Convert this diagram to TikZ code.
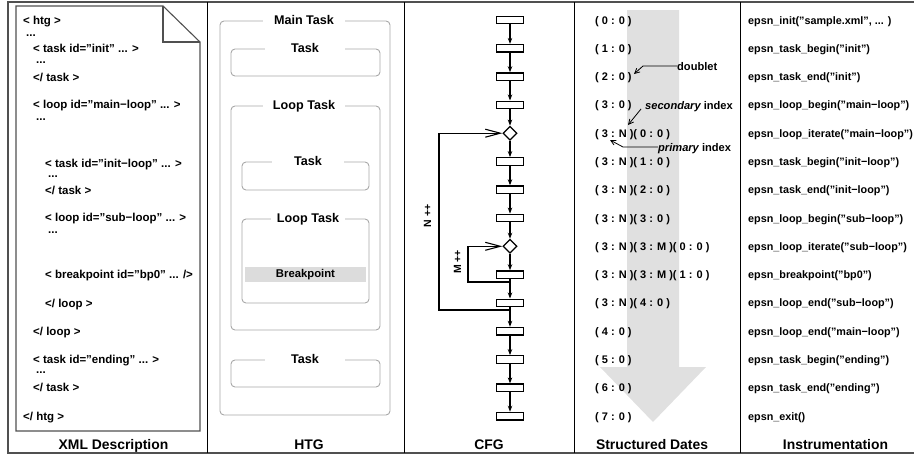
\documentclass[tikz,border=0pt]{standalone}
\usepackage{fontspec}
\setmainfont{Liberation Sans}
\usetikzlibrary{arrows.meta,shapes.geometric}
\definecolor{htggray}{HTML}{A8A8A8}
\definecolor{bpgray}{HTML}{DCDCDC}
\definecolor{arrgray}{HTML}{E0E0E0}
\definecolor{framegray}{HTML}{505050}
\begin{document}
\begin{tikzpicture}[x=1pt,y=-1pt,
  base/.style={inner sep=0pt, text height=8pt, text depth=0pt},
  xmltxt/.style={base, anchor=west, font=\fontsize{11.5}{12}\selectfont\bfseries},
  dotstxt/.style={xmltxt, text height=1.5pt},
  datetxt/.style={base, anchor=west, font=\fontsize{11}{12}\selectfont\bfseries},
  insttxt/.style={base, anchor=west, font=\fontsize{10.8}{12}\selectfont\bfseries},
  anntxt/.style={base, anchor=west, font=\fontsize{11.1}{12}\selectfont\bfseries},
  coltxt/.style={base, font=\fontsize{13.9}{15}\selectfont\bfseries},
  htgbox/.style={draw=htggray, line width=0.9pt, rounded corners=4pt, inner sep=0pt},
  htgtitle/.style={base, fill=white, minimum height=6pt, font=\fontsize{12.6}{13}\selectfont\bfseries},
  bpbox/.style={fill=bpgray, inner sep=0pt, font=\fontsize{11.3}{12}\selectfont\bfseries},
  cfgbox/.style={draw, line width=1.3pt, rectangle, minimum width=27pt, minimum height=7.5pt, inner sep=0pt},
  cfgdia/.style={draw, line width=1.2pt, diamond, minimum width=14pt, minimum height=14pt, inner sep=0pt},
  cfgar/.style={line width=1.1pt, -{Stealth[length=6pt,width=4.5pt]}},
  loopar/.style={line width=1.1pt, -{Straight Barb[length=15pt,width=8pt]}},
  annar/.style={line width=0.8pt, -{Straight Barb[length=5pt,width=5pt]}},
  looplab/.style={base, rotate=90, font=\fontsize{10.5}{11}\selectfont\bfseries}
]
\useasboundingbox (0,0) rectangle (914,455);
\clip (0,0) rectangle (914,455);

% frame and columns
\draw[framegray, line width=1.2pt] (914,2) -- (8,2) -- (8,453) -- (914,453);
\foreach \xx in {207,404,574,740} \draw[line width=1pt] (\xx,2) -- (\xx,453);

% ---------- XML description ----------
\draw[framegray, line width=1.1pt] (16,6) -- (163,6) -- (200,42) -- (200,431) -- (16,431) -- cycle;
\draw[framegray, line width=1.1pt] (163,6) -- (163,42) -- (200,42);
\node[xmltxt] (x1) at (23,20) {< htg >};
\node[dotstxt] (x2) at (26,36) {...};
\node[xmltxt] (x3) at (33,48) {< task id="init" ... >};
\node[dotstxt] (x4) at (36,62.5) {...};
\node[xmltxt] (x5) at (33,77) {</ task >};
\node[xmltxt] (x6) at (33,104) {< loop id="main−loop" ... >};
\node[dotstxt] (x7) at (36,119.5) {...};
\node[xmltxt] (x8) at (45,163) {< task id="init−loop" ... >};
\node[dotstxt] (x9) at (48,176.5) {...};
\node[xmltxt] (x10) at (45,190) {</ task >};
\node[xmltxt] (x11) at (45,217) {< loop id="sub−loop" ... >};
\node[dotstxt] (x12) at (48,233) {...};
\node[xmltxt] (x13) at (45,274) {< breakpoint id="bp0" ... />};
\node[xmltxt] (x14) at (45,303) {</ loop >};
\node[xmltxt] (x15) at (33,331) {</ loop >};
\node[xmltxt] (x16) at (33,359) {< task id="ending" ... >};
\node[dotstxt] (x17) at (36,372.5) {...};
\node[xmltxt] (x18) at (33,387) {</ task >};
\node[xmltxt] (x19) at (23,416) {</ htg >};

% ---------- HTG ----------
\node[htgbox, minimum width=170pt, minimum height=394pt] (hmain) at (305,218) {};
\node[htgbox, minimum width=149pt, minimum height=27pt] (htask1) at (305.5,62.5) {};
\node[htgbox, minimum width=149pt, minimum height=224pt] (hloop) at (305.5,218) {};
\node[htgbox, minimum width=127pt, minimum height=28pt] (hitask) at (305.5,176) {};
\node[htgbox, minimum width=127pt, minimum height=84pt] (hiloop) at (305.5,261) {};
\node[bpbox, minimum width=121pt, minimum height=15pt] (hbp) at (305.5,274.5) {Breakpoint};
\node[htgbox, minimum width=149pt, minimum height=27pt] (htask2) at (305.5,373.5) {};
\node[htgtitle, minimum width=82pt] (tmain) at (304,20.5) {Main Task};
\node[htgtitle, minimum width=80pt] (ttask1) at (305,48.5) {Task};
\node[htgtitle, minimum width=82pt] (tloop) at (304,105) {Loop Task};
\node[htgtitle, minimum width=72pt] (titask) at (308,161) {Task};
\node[htgtitle, minimum width=74pt] (tiloop) at (308,218) {Loop Task};
\node[htgtitle, minimum width=80pt] (ttask2) at (305,359.5) {Task};

% ---------- CFG ----------
\node[cfgbox] (c1) at (510,20.0) {};
\node[cfgbox] (c2) at (510,48.3) {};
\node[cfgbox] (c3) at (510,76.6) {};
\node[cfgbox] (c4) at (510,104.9) {};
\node[cfgdia] (c5) at (510,133.2) {};
\node[cfgbox] (c6) at (510,161.5) {};
\node[cfgbox] (c7) at (510,189.7) {};
\node[cfgbox] (c8) at (510,218.0) {};
\node[cfgdia] (c9) at (510,246.3) {};
\node[cfgbox] (c10) at (510,274.6) {};
\node[cfgbox] (c11) at (510,302.9) {};
\node[cfgbox] (c12) at (510,331.2) {};
\node[cfgbox] (c13) at (510,359.5) {};
\node[cfgbox] (c14) at (510,387.8) {};
\node[cfgbox] (c15) at (510,416.1) {};
\foreach \a/\b in {c1/c2,c2/c3,c3/c4,c4/c5,c5/c6,c6/c7,c7/c8,c8/c9,c9/c10,c10/c11,c11/c12,c12/c13,c13/c14,c14/c15}
  \draw[cfgar] (\a) -- (\b);
\coordinate (nb) at (510,310);
\coordinate (nbl) at (439,310);
\coordinate (ntl) at (439,133.2);
\draw[loopar] (nb) -- (nbl) -- (ntl) -- (c5.west);
\coordinate (mb) at (510,282);
\coordinate (mbl) at (468,282);
\coordinate (mtl) at (468,246.3);
\draw[loopar] (mb) -- (mbl) -- (mtl) -- (c9.west);
\node[looplab] (nlab) at (427,216) {N ++};
\node[looplab] (mlab) at (457,262) {M ++};

% ---------- Structured dates ----------
\fill[arrgray] (627,10) -- (679,10) -- (679,367) -- (706,367) -- (653,422) -- (600,367) -- (627,367) -- cycle;
\node[datetxt] (d1) at (595,20.0) {( 0 : 0 )};
\node[datetxt] (d2) at (595,48.3) {( 1 : 0 )};
\node[datetxt] (d3) at (595,76.6) {( 2 : 0 )};
\node[datetxt] (d4) at (595,104.9) {( 3 : 0 )};
\node[datetxt] (d5) at (595,133.2) {( 3 : N )( 0 : 0 )};
\node[datetxt] (d6) at (595,161.5) {( 3 : N )( 1 : 0 )};
\node[datetxt] (d7) at (595,189.7) {( 3 : N )( 2 : 0 )};
\node[datetxt] (d8) at (595,218.0) {( 3 : N )( 3 : 0 )};
\node[datetxt] (d9) at (595,246.3) {( 3 : N )( 3 : M )( 0 : 0 )};
\node[datetxt] (d10) at (595,274.6) {( 3 : N )( 3 : M )( 1 : 0 )};
\node[datetxt] (d11) at (595,302.9) {( 3 : N )( 4 : 0 )};
\node[datetxt] (d12) at (595,331.2) {( 4 : 0 )};
\node[datetxt] (d13) at (595,359.5) {( 5 : 0 )};
\node[datetxt] (d14) at (595,387.8) {( 6 : 0 )};
\node[datetxt] (d15) at (595,416.1) {( 7 : 0 )};
\node[anntxt] (dbl) at (677,66) {doublet};
\node[anntxt] (sec) at (645,105) {\itshape secondary\upshape\ index};
\node[anntxt] (pri) at (658,147) {\itshape primary\upshape\ index};
\coordinate (dblk) at (643,66);
\coordinate (dblt) at (634,74);
\draw[annar] (dbl.west) -- (dblk) -- (dblt);
\coordinate (secs) at (641,109);
\coordinate (sect) at (628,125);
\draw[annar] (secs) -- (sect);
\coordinate (prik) at (623,147);
\coordinate (prit) at (610,140);
\draw[annar] (pri.west) -- (prik) -- (prit);

% ---------- Instrumentation ----------
\node[insttxt] (i1) at (748,20.0) {epsn\_init("sample.xml", ... )};
\node[insttxt] (i2) at (748,48.3) {epsn\_task\_begin("init")};
\node[insttxt] (i3) at (748,76.6) {epsn\_task\_end("init")};
\node[insttxt] (i4) at (748,104.9) {epsn\_loop\_begin("main−loop")};
\node[insttxt] (i5) at (748,133.2) {epsn\_loop\_iterate("main−loop")};
\node[insttxt] (i6) at (748,161.5) {epsn\_task\_begin("init−loop")};
\node[insttxt] (i7) at (748,189.7) {epsn\_task\_end("init−loop")};
\node[insttxt] (i8) at (748,218.0) {epsn\_loop\_begin("sub−loop")};
\node[insttxt] (i9) at (748,246.3) {epsn\_loop\_iterate("sub−loop")};
\node[insttxt] (i10) at (748,274.6) {epsn\_breakpoint("bp0")};
\node[insttxt] (i11) at (748,302.9) {epsn\_loop\_end("sub−loop")};
\node[insttxt] (i12) at (748,331.2) {epsn\_loop\_end("main−loop")};
\node[insttxt] (i13) at (748,359.5) {epsn\_task\_begin("ending")};
\node[insttxt] (i14) at (748,387.8) {epsn\_task\_end("ending")};
\node[insttxt] (i15) at (748,416.1) {epsn\_exit()};

% ---------- column labels ----------
\node[coltxt] (lxml) at (113.5,445) {XML Description};
\node[coltxt] (lhtg) at (309,445) {HTG};
\node[coltxt] (lcfg) at (489,445) {CFG};
\node[coltxt] (ldat) at (652,445) {Structured Dates};
\node[coltxt] (lins) at (835.5,445) {Instrumentation};
\end{tikzpicture}
\end{document}
